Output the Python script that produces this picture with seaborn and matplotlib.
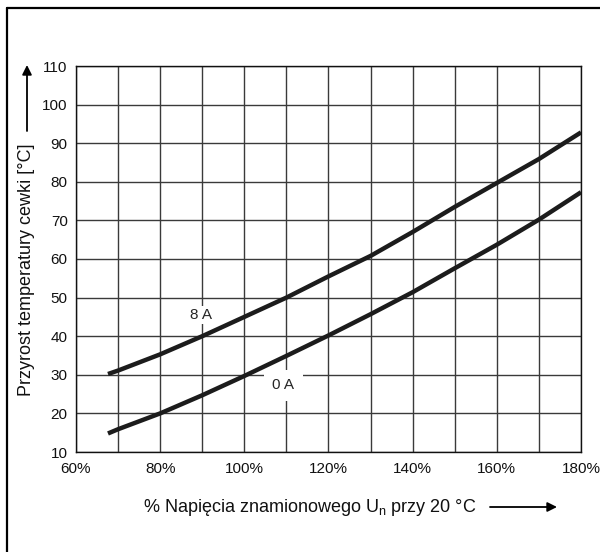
import numpy as np
import pandas as pd
import matplotlib
matplotlib.use("Agg")
import matplotlib.pyplot as plt
from matplotlib.lines import Line2D
import seaborn as sns

# ---- data ----
voltage_pct = [67.6, 70, 80, 90, 100, 110, 120, 130, 140, 150, 160, 170, 180]
rise_8A = [30.2, 31.1, 35.3, 40.0, 45.0, 50.0, 55.5, 60.8, 67.0, 73.5, 79.7, 85.9, 92.8]
rise_0A = [14.8, 15.9, 20.0, 24.7, 29.7, 34.9, 40.2, 45.7, 51.4, 57.6, 63.7, 70.2, 77.3]
series_names = ["8 A", "0 A"]
x_ticks = [60, 80, 100, 120, 140, 160, 180]
x_tick_labels = ["60%", "80%", "100%", "120%", "140%", "160%", "180%"]
y_ticks = [10, 20, 30, 40, 50, 60, 70, 80, 90, 100, 110]

df = pd.DataFrame({
    "x": voltage_pct * 2,
    "y": rise_8A + rise_0A,
    "curve": [series_names[0]] * len(voltage_pct) + [series_names[1]] * len(voltage_pct),
})

sns.set_style("white")
plt.rcParams["font.family"] = ["Liberation Sans", "DejaVu Sans"]
plt.rcParams["mathtext.fontset"] = "custom"
plt.rcParams["mathtext.rm"] = "Liberation Sans"
plt.rcParams["mathtext.default"] = "regular"

W, H = 600, 552
fig = plt.figure(figsize=(6.0, 5.52), dpi=100)
ax = fig.add_axes([76 / W, 1 - 452 / H, (581 - 76) / W, (452 - 66) / H])

sns.lineplot(data=df, x="x", y="y", hue="curve", palette=["#1c1c1c", "#1c1c1c"],
             linewidth=3.2, legend=False, ax=ax, zorder=5, solid_capstyle="butt")

ax.set_xlim(60, 180)
ax.set_ylim(10, 110)
grid_x = list(range(60, 181, 10))
ax.set_xticks(grid_x)
ax.set_xticklabels([x_tick_labels[x_ticks.index(v)] if v in x_ticks else "" for v in grid_x])
ax.set_yticks(y_ticks)
ax.set_yticklabels([str(v) for v in y_ticks])
ax.tick_params(axis="both", length=0, labelsize=11, colors="#111111", pad=6)
ax.tick_params(axis="x", pad=7)
ax.grid(True, color="#3a3a3a", linewidth=1.0)
ax.set_axisbelow(True)
for s in ax.spines.values():
    s.set_color("#111111")
    s.set_linewidth(1.0)
ax.set_xlabel("")
ax.set_ylabel("")

# curve labels
ax.text(89.6, 45.5, series_names[0], fontsize=11, ha="center", va="center", zorder=6,
        bbox=dict(facecolor="white", edgecolor="none", pad=1.5))
ax.text(109.3, 27.3, series_names[1], fontsize=11, ha="center", va="center", zorder=6,
        bbox=dict(facecolor="white", edgecolor="none", boxstyle="square,pad=0.55"))

# axis titles with arrows
fig.text(310 / W, 1 - 507 / H, "% Napięcia znamionowego U$_{n}$ przy 20 °C",
         fontsize=13, ha="center", va="center", color="#111111")
fig.text(27 / W, 1 - 270 / H, "Przyrost temperatury cewki [°C]", rotation=90,
         fontsize=13, ha="center", va="center", color="#111111")
fig.add_artist(plt.Annotation("", xy=(557 / W, 1 - 507 / H), xytext=(490 / W, 1 - 507 / H),
                              xycoords="figure fraction", textcoords="figure fraction",
                              arrowprops=dict(arrowstyle="-|>", lw=1.3, color="black",
                                              mutation_scale=14, shrinkA=0, shrinkB=0)))
fig.add_artist(plt.Annotation("", xy=(27 / W, 1 - 65 / H), xytext=(27 / W, 1 - 131 / H),
                              xycoords="figure fraction", textcoords="figure fraction",
                              arrowprops=dict(arrowstyle="-|>", lw=1.3, color="black",
                                              mutation_scale=14, shrinkA=0, shrinkB=0)))

# outer frame (top and left edges visible)
fig.add_artist(Line2D([7 / W, 7 / W], [0, 1 - 8 / H], transform=fig.transFigure,
                      color="black", lw=1.6))
fig.add_artist(Line2D([7 / W, 1], [1 - 8 / H, 1 - 8 / H], transform=fig.transFigure,
                      color="black", lw=1.6))

fig.savefig("out.png", dpi=100, facecolor="white")
